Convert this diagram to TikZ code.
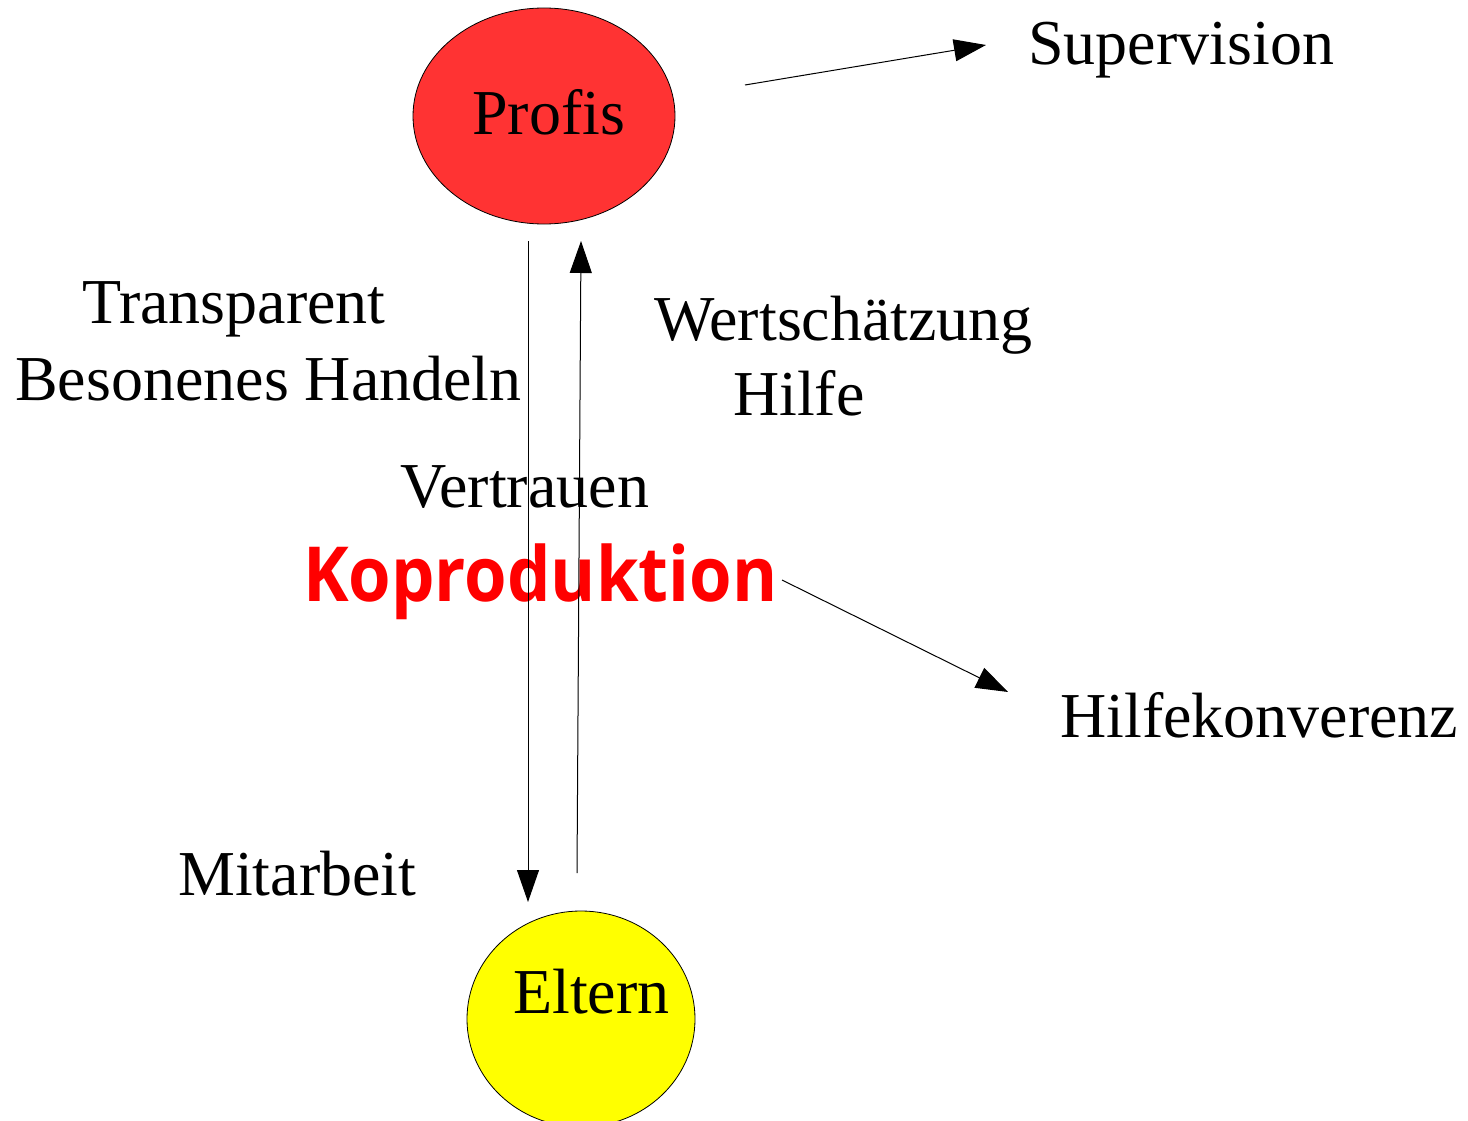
\documentclass[tikz,border=0pt]{standalone}
\usepackage{fontspec}
\setmainfont{Liberation Serif}
\newfontfamily\kopfont{Open Sans}
\usetikzlibrary{shapes.geometric,arrows.meta}
\definecolor{profisred}{RGB}{255,51,51}
\definecolor{elterngelb}{RGB}{255,255,0}
\definecolor{kopred}{RGB}{255,0,0}
\tikzset{
  txt/.style={anchor=base west,inner sep=0pt,font=\fontsize{64}{70}\selectfont},
  blob/.style={ellipse,draw=black,line width=0.8pt,inner sep=0pt},
  conn/.style={draw=black,line width=1pt,-{Triangle[length=32pt,width=22pt]}},
}
\begin{document}
\begin{tikzpicture}[x=1pt,y=-1pt]
\useasboundingbox (0,0) rectangle (1468,1121);
% ellipses
\node[blob,fill=profisred,minimum width=262pt,minimum height=216pt] (profis) at (544,116) {};
\node[blob,fill=elterngelb,minimum width=228pt,minimum height=216pt] (eltern) at (581,1019) {};
% texts
\node[txt] (tprofis) at (472,135) {Profis};
\node[txt] (teltern) at (513,1013) {Eltern};
\node[txt] (super) at (1028,65) {Supervision};
\node[txt] (transp) at (82,323) {Transparent};
\node[txt] (beson) at (15,400) {Besonenes Handeln};
\node[txt] (wert) at (654,340) {Wertschätzung};
\node[txt] (hilfe) at (733,415) {Hilfe};
\node[txt] (vertr) at (400,507) {Vertrauen};
\node[txt] (mitarb) at (178,895) {Mitarbeit};
\node[txt] (hkonf) at (1060,737) {Hilfekonverenz};
\node[anchor=base west,inner sep=0pt,text=kopred,font=\kopfont\bfseries\fontsize{76}{80}\selectfont] (kop) at (303,601) {\scalebox{0.905}[1]{Koproduktion}};
% connector end points
\coordinate (dA) at (528,241);
\coordinate (dB) at (528,902);
\coordinate (uA) at (577,873);
\coordinate (uB) at (581,241);
\coordinate (sA) at (745,85);
\coordinate (sB) at (986,45);
\coordinate (kA) at (782,580);
\coordinate (kB) at (1008,692);
% connectors
\draw[conn] (dA) -- (dB);
\draw[conn] (uA) -- (uB);
\draw[conn] (sA) -- (sB);
\draw[conn] (kA) -- (kB);
\end{tikzpicture}
\end{document}
